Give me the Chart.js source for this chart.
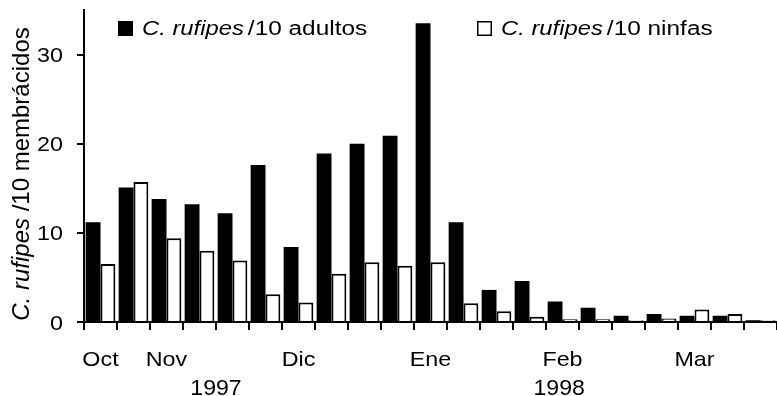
<!DOCTYPE html>
<html>
<head>
<meta charset="utf-8">
<script src="https://cdn.jsdelivr.net/npm/chart.js@4/dist/chart.umd.min.js"></script>
<style>
  html, body { margin: 0; padding: 0; background: #fff; }
  canvas { display: block; }
</style>
</head>
<body>
<canvas id="chart" width="777" height="396"></canvas>
<script>
// month labels under the sampling dates ('' = no label)
const monthTicks = ['Oct', '', 'Nov', '', '', '', 'Dic', '', '', '', 'Ene', '', '', '', 'Feb', '', '', '', 'Mar', '', ''];
// C. rufipes per 10 treehoppers
const adults = [11.2, 15.1, 13.8, 13.2, 12.2, 17.6, 8.4, 18.9, 20.0, 20.9, 33.5, 11.2, 3.6, 4.6, 2.3, 1.6, 0.7, 0.9, 0.7, 0.7, 0.2];
const nymphs = [6.5, 15.7, 9.4, 8.0, 6.9, 3.1, 2.2, 5.4, 6.7, 6.3, 6.7, 2.1, 1.2, 0.6, 0.3, 0.3, 0.2, 0.4, 1.4, 0.9, 0.2];
const yTicks = [0, 10, 20, 30];
// years below the months, placed at a category index
const years = ['1997', '1998'];
const yearAt = [3.5, 13.9];

const FONT = '"Liberation Sans", Arial, sans-serif';

// the original lettering is a bit wider than Arial, so text is stretched sideways
function drawText(ctx, text, x, y, size, sx, align, italic) {
  ctx.save();
  ctx.font = (italic ? 'italic ' : '') + size + 'px ' + FONT;
  ctx.textAlign = align;
  ctx.textBaseline = 'alphabetic';
  ctx.translate(x, y);
  ctx.scale(sx, 1);
  ctx.fillText(text, 0, 0);
  const w = ctx.measureText(text).width * sx;
  ctx.restore();
  return w;
}

// tick labels, legend, axis title and years drawn by hand (mixed italic text)
const extras = {
  id: 'extras',
  afterDraw(chart) {
    const ctx = chart.ctx;
    const x = chart.scales.x;
    const y = chart.scales.y;
    ctx.save();
    ctx.fillStyle = '#000';
    ctx.strokeStyle = '#000';

    // y tick labels
    y.ticks.forEach(t => {
      drawText(ctx, String(t.value), 63, y.getPixelForValue(t.value) + 7.5, 21, 1.11, 'right');
    });

    // month labels
    chart.data.labels.forEach((lab, i) => {
      if (lab) drawText(ctx, lab, x.getPixelForValue(i), 366, 21, 1.11, 'center');
    });

    // years
    years.forEach((yr, i) => {
      drawText(ctx, yr, x.getPixelForValue(yearAt[i]), 395, 22, 1.05, 'center');
    });

    // legend
    const legend = (sx, label, filled) => {
      if (filled) {
        ctx.fillRect(sx, 21, 15, 15);
      } else {
        ctx.lineWidth = 1.5;
        ctx.strokeRect(sx + 0.75, 21.75, 13.5, 13.5);
      }
      const w = drawText(ctx, 'C. rufipes', sx + 24, 35, 20, 1.19, 'left', true);
      drawText(ctx, label, sx + 24 + w + 4, 35, 20, 1.22, 'left');
    };
    legend(118, '/10 adultos', true);
    legend(477, '/10 ninfas', false);

    // y axis title
    ctx.save();
    ctx.translate(28.5, 174);
    ctx.rotate(-Math.PI / 2);
    ctx.textBaseline = 'alphabetic';
    ctx.textAlign = 'left';
    const a = 'C. rufipes ';
    const b = '/10 membrácidos';
    ctx.font = 'italic 24px ' + FONT;
    const wa = ctx.measureText(a).width;
    ctx.font = '24px ' + FONT;
    const wb = ctx.measureText(b).width;
    const start = -(wa + wb) / 2;
    ctx.font = 'italic 24px ' + FONT;
    ctx.fillText(a, start, 0);
    ctx.font = '24px ' + FONT;
    ctx.fillText(b, start + wa, 0);
    ctx.restore();

    ctx.restore();
  }
};

new Chart(document.getElementById('chart'), {
  type: 'bar',
  data: {
    labels: monthTicks,
    datasets: [
      {
        label: 'C. rufipes /10 adultos',
        data: adults,
        backgroundColor: '#000',
        borderWidth: 0,
      },
      {
        label: 'C. rufipes /10 ninfas',
        data: nymphs,
        backgroundColor: '#fff',
        borderColor: '#000',
        borderWidth: 2,
      }
    ]
  },
  options: {
    responsive: false,
    animation: false,
    layout: { padding: { top: 10, left: 0, right: 0, bottom: 0 } },
    datasets: {
      bar: { categoryPercentage: 0.9, barPercentage: 1.0 }
    },
    plugins: {
      legend: { display: false },
      tooltip: { enabled: false }
    },
    scales: {
      x: {
        offset: true,
        grid: {
          offset: true,
          drawOnChartArea: false,
          color: '#000',
          lineWidth: 2,
          tickLength: 8
        },
        border: { display: true, color: '#000', width: 2 },
        ticks: { display: false, autoSkip: false },
        afterFit: (scale) => { scale.height = 74; }
      },
      y: {
        min: 0,
        max: 35,
        grid: {
          drawOnChartArea: false,
          color: '#000',
          lineWidth: 2,
          tickLength: 7
        },
        border: { display: true, color: '#000', width: 2 },
        ticks: { display: false },
        afterBuildTicks: (scale) => {
          scale.ticks = yTicks.map(v => ({ value: v }));
        },
        afterFit: (scale) => { scale.width = 84; }
      }
    }
  },
  plugins: [extras]
});
</script>
</body>
</html>
